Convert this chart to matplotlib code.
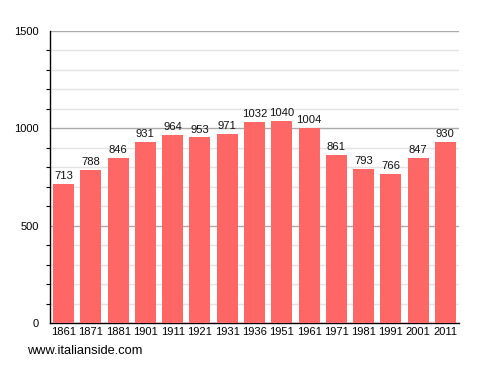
import matplotlib
matplotlib.use("Agg")
import matplotlib.pyplot as plt
from matplotlib.ticker import MultipleLocator

plt.rcParams["font.family"] = ["Liberation Sans", "DejaVu Sans"]

years = ["1861", "1871", "1881", "1901", "1911", "1921", "1931", "1936",
         "1951", "1961", "1971", "1981", "1991", "2001", "2011"]
population = [713, 788, 846, 931, 964, 953, 971, 1032, 1040, 1004, 861, 793, 766, 847, 930]

fig = plt.figure(figsize=(4.88, 3.73), dpi=100)
ax = fig.add_axes([50/488, 50/373, 409/488, 292/373])

x = list(range(len(years)))
ax.bar(x, population, width=0.77, color="#FF6666", zorder=3)
for xi, v in zip(x, population):
    ax.text(xi, v + 15, str(v), ha="center", va="bottom", fontsize=8.1, color="#111111", zorder=4)

ax.set_xlim(-0.5, len(years) - 0.5)
ax.set_ylim(0, 1500)
ax.set_xticks(x)
ax.set_xticklabels(years, fontsize=8.0)
ax.yaxis.set_major_locator(MultipleLocator(500))
ax.yaxis.set_minor_locator(MultipleLocator(100))
ax.tick_params(axis="y", which="major", length=0, pad=8, labelsize=8.0)
ax.tick_params(axis="y", which="minor", length=3, width=0.8, direction="out")
ax.tick_params(axis="x", length=0, pad=3)
ax.grid(axis="y", which="major", color="#aaaaaa", linewidth=1, zorder=1)
ax.grid(axis="y", which="minor", color="#e3e3e3", linewidth=1, zorder=1)
for s in ["top", "right"]:
    ax.spines[s].set_visible(False)
ax.spines["left"].set_linewidth(1)
ax.spines["bottom"].set_linewidth(1)

fig.text(27/488, 1 - 351/373, "www.italianside.com", fontsize=9.3, va="center", ha="left")

fig.savefig("out.png", dpi=100)
